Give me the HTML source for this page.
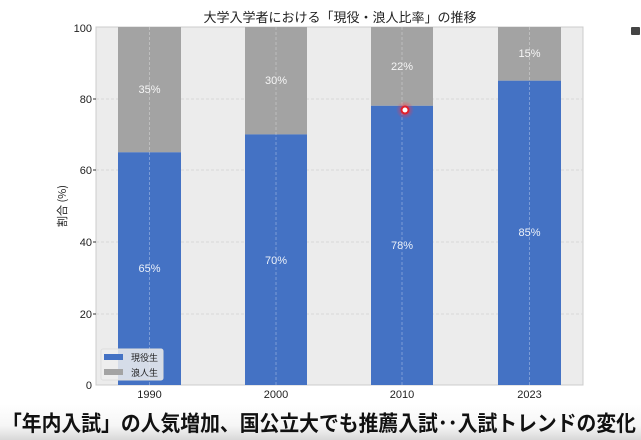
<!DOCTYPE html>
<html><head><meta charset="utf-8"><style>
html,body{margin:0;padding:0;background:#fff;width:641px;height:440px;overflow:hidden}
</style></head><body>
<svg width="641" height="440" xmlns="http://www.w3.org/2000/svg" style="position:absolute;left:0;top:0">
<defs><linearGradient id="cap" x1="0" y1="0" x2="0" y2="1"><stop offset="0" stop-color="#ffffff"/><stop offset="0.6" stop-color="#f6f6f6"/><stop offset="1" stop-color="#d8d8d8"/></linearGradient>
<radialGradient id="glow"><stop offset="0" stop-color="#ff3040" stop-opacity="0.8"/><stop offset="1" stop-color="#ff3040" stop-opacity="0"/></radialGradient></defs>
<g font-family="Liberation Sans, Noto Sans CJK JP, sans-serif">
<text x="340" y="22" font-size="13" text-anchor="middle" fill="#222" font-family="Noto Sans CJK JP, sans-serif">大学入学者における「現役・浪人比率」の推移</text>
<rect x="96" y="27" width="487" height="358" fill="#ececec" stroke="#ccc"/>
<g stroke="#d8d8d8" stroke-dasharray="3,2" stroke-width="1">
<line x1="96" x2="583" y1="99" y2="99"/><line x1="96" x2="583" y1="170" y2="170"/><line x1="96" x2="583" y1="242" y2="242"/><line x1="96" x2="583" y1="314" y2="314"/>
</g>
<rect x="118" y="27" width="63" height="125.3" fill="#a3a3a3"/><rect x="118" y="152.3" width="63" height="232.7" fill="#4472c4"/>
<rect x="245" y="27" width="62" height="107.4" fill="#a3a3a3"/><rect x="245" y="134.4" width="62" height="250.6" fill="#4472c4"/>
<rect x="371" y="27" width="62" height="78.8" fill="#a3a3a3"/><rect x="371" y="105.8" width="62" height="279.2" fill="#4472c4"/>
<rect x="498" y="27" width="63" height="53.7" fill="#a3a3a3"/><rect x="498" y="80.7" width="63" height="304.3" fill="#4472c4"/>
<g stroke="#ffffff" stroke-opacity="0.3" stroke-dasharray="3,2"><line x1="149.5" x2="149.5" y1="27" y2="385"/><line x1="276" x2="276" y1="27" y2="385"/><line x1="402" x2="402" y1="27" y2="385"/><line x1="529.5" x2="529.5" y1="27" y2="385"/></g>
<g fill="#fff" font-size="11" text-anchor="middle" opacity="0.9">
<text x="149.5" y="93">35%</text><text x="149.5" y="272">65%</text>
<text x="276" y="84">30%</text><text x="276" y="264">70%</text>
<text x="402" y="70">22%</text><text x="402" y="249">78%</text>
<text x="529.5" y="57">15%</text><text x="529.5" y="236">85%</text>
</g>
<circle cx="405" cy="110" r="9" fill="url(#glow)"/><circle cx="405" cy="110" r="3.5" fill="#fff" stroke="#e0202a" stroke-width="2"/>
<g font-size="11" fill="#222" text-anchor="end">
<text x="92" y="32">100</text><text x="92" y="103">80</text><text x="92" y="174">60</text><text x="92" y="246">40</text><text x="92" y="318">20</text><text x="92" y="389">0</text>
</g>
<g stroke="#333"><line x1="93" x2="96" y1="99" y2="99"/><line x1="93" x2="96" y1="170" y2="170"/><line x1="93" x2="96" y1="242" y2="242"/><line x1="93" x2="96" y1="314" y2="314"/></g>
<g font-size="11" fill="#222" text-anchor="middle">
<text x="149.5" y="398">1990</text><text x="276" y="398">2000</text><text x="402" y="398">2010</text><text x="529.5" y="398">2023</text>
</g>
<text transform="translate(66,206) rotate(-90)" font-size="11" fill="#222" text-anchor="middle" font-family="Noto Sans CJK JP, sans-serif">割合 (%)</text>
<rect x="101" y="349" width="62" height="31" rx="2" fill="#eeeeee" fill-opacity="0.85" stroke="#ddd"/>
<rect x="104" y="354" width="19" height="6" fill="#4472c4"/><rect x="104" y="369" width="19" height="6" fill="#a3a3a3"/>
<g font-size="9" fill="#222" font-family="Noto Sans CJK JP, sans-serif"><text x="131" y="361">現役生</text><text x="131" y="376">浪人生</text></g>
<rect x="0" y="404" width="641" height="36" fill="url(#cap)"/>
<text x="319" y="431" font-size="21.5" font-weight="bold" text-anchor="middle" fill="#111" font-family="Noto Sans CJK JP, sans-serif" textLength="634" lengthAdjust="spacingAndGlyphs">「年内入試」の人気増加、国公立大でも推薦入試･･入試トレンドの変化</text>
<rect x="631" y="27" width="9" height="8" rx="1" fill="#444"/>
</g>
</svg>
</body></html>
